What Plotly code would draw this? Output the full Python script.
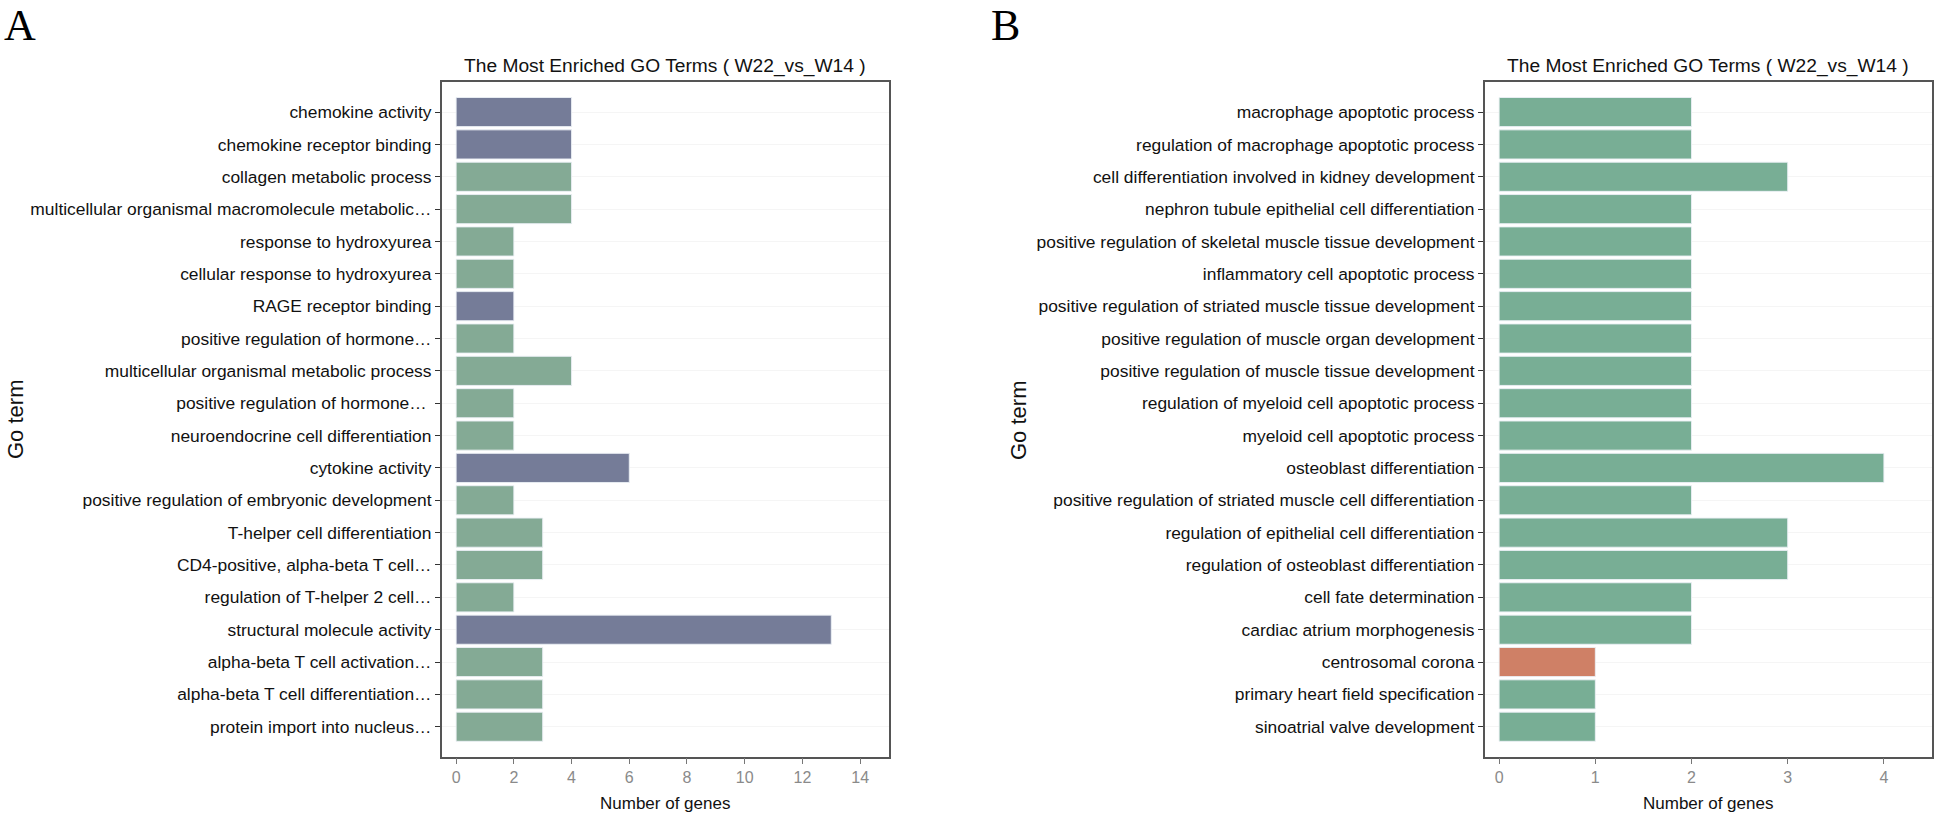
import plotly.graph_objects as go

W, H = 1946, 815

terms_a = [
    "chemokine activity", "chemokine receptor binding", "collagen metabolic process",
    "multicellular organismal macromolecule metabolic…", "response to hydroxyurea",
    "cellular response to hydroxyurea", "RAGE receptor binding", "positive regulation of hormone…",
    "multicellular organismal metabolic process", "positive regulation of hormone… ",
    "neuroendocrine cell differentiation", "cytokine activity",
    "positive regulation of embryonic development", "T-helper cell differentiation",
    "CD4-positive, alpha-beta T cell…", "regulation of T-helper 2 cell…",
    "structural molecule activity", "alpha-beta T cell activation…",
    "alpha-beta T cell differentiation…", "protein import into nucleus…",
]
genes_a = [4, 4, 4, 4, 2, 2, 2, 2, 4, 2, 2, 6, 2, 3, 3, 2, 13, 3, 3, 3]
type_a = ["MF", "MF", "BP", "BP", "BP", "BP", "MF", "BP", "BP", "BP",
          "BP", "MF", "BP", "BP", "BP", "BP", "MF", "BP", "BP", "BP"]

terms_b = [
    "macrophage apoptotic process", "regulation of macrophage apoptotic process",
    "cell differentiation involved in kidney development",
    "nephron tubule epithelial cell differentiation",
    "positive regulation of skeletal muscle tissue development",
    "inflammatory cell apoptotic process",
    "positive regulation of striated muscle tissue development",
    "positive regulation of muscle organ development",
    "positive regulation of muscle tissue development",
    "regulation of myeloid cell apoptotic process", "myeloid cell apoptotic process",
    "osteoblast differentiation",
    "positive regulation of striated muscle cell differentiation",
    "regulation of epithelial cell differentiation",
    "regulation of osteoblast differentiation", "cell fate determination",
    "cardiac atrium morphogenesis", "centrosomal corona",
    "primary heart field specification", "sinoatrial valve development",
]
genes_b = [2, 2, 3, 2, 2, 2, 2, 2, 2, 2, 2, 4, 2, 3, 3, 2, 2, 1, 1, 1]
type_b = ["BP"] * 17 + ["CC", "BP", "BP"]

colors_a = {"MF": "#757c98", "BP": "#84aa95"}
colors_b = {"BP": "#78ae95", "CC": "#cf8066"}

title_text = "The Most Enriched GO Terms ( W22_vs_W14 )"
xtitle = "Number of genes"
ytitle = "Go term"

FONT = "Liberation Sans, Arial, sans-serif"

# pixel geometry
ax_left, ax_right = 441.7, 889.0
bx_left, bx_right = 1484.7, 1932.0
y_top, y_bot = 82.3, 756.5

def px(x):
    return x / W

def py(y):
    return 1 - y / H

fig = go.Figure()
fig.add_trace(go.Bar(
    x=genes_a, y=terms_a, orientation="h", width=0.9,
    marker=dict(color=[colors_a[t] for t in type_a],
                line=dict(color="rgba(235,240,245,0.9)", width=1)),
    xaxis="x", yaxis="y", showlegend=False,
))
fig.add_trace(go.Bar(
    x=genes_b, y=terms_b, orientation="h", width=0.9,
    marker=dict(color=[colors_b[t] for t in type_b],
                line=dict(color="rgba(235,240,245,0.9)", width=1)),
    xaxis="x2", yaxis="y2", showlegend=False,
))

xcommon = dict(
    showline=True, linecolor="#555555", linewidth=1.5, mirror=True,
    ticks="outside", ticklen=6, tickcolor="#777777", tickwidth=1.2,
    tickfont=dict(family=FONT, size=16, color="#8a8a8a"),
    showgrid=False, zeroline=False,
)
ycommon = dict(
    showline=True, linecolor="#555555", linewidth=1.5, mirror=True,
    ticks="outside", ticklen=5, tickcolor="#333333", tickwidth=1.2,
    tickfont=dict(family=FONT, size=17.4, color="#111111"),
    showgrid=True, gridcolor="#f5f5f5", gridwidth=1,
    zeroline=False, type="category",
    range=[len(terms_a) - 1 + 0.92, -0.92],
)

fig.update_layout(
    width=W, height=H,
    margin=dict(l=0, r=0, t=0, b=0),
    paper_bgcolor="white", plot_bgcolor="white",
    bargap=0.1,
    xaxis=dict(domain=[px(ax_left), px(ax_right)], range=[-0.5, 15],
               tickvals=[0, 2, 4, 6, 8, 10, 12, 14], anchor="y", **xcommon),
    yaxis=dict(domain=[py(y_bot), py(y_top)], anchor="x",
               categoryorder="array", categoryarray=terms_a, **ycommon),
    xaxis2=dict(domain=[px(bx_left), px(bx_right)], range=[-0.15, 4.5],
                tickvals=[0, 1, 2, 3, 4], anchor="y2", **xcommon),
    yaxis2=dict(domain=[py(y_bot), py(y_top)], anchor="x2",
                categoryorder="array", categoryarray=terms_b, **ycommon),
)

ann = []
for label, lx, l, r in [("A", 2, ax_left, ax_right), ("B", 989, bx_left, bx_right)]:
    ann.append(dict(text=label, x=px(lx), y=py(25), xref="paper", yref="paper",
                    xanchor="left", yanchor="middle", showarrow=False,
                    font=dict(family="Liberation Serif, Times New Roman, serif", size=44, color="black")))
    ann.append(dict(text=title_text, x=px((l + r) / 2), y=py(66), xref="paper", yref="paper",
                    xanchor="center", yanchor="middle", showarrow=False,
                    font=dict(family=FONT, size=19.2, color="#111111")))
    ann.append(dict(text=xtitle, x=px((l + r) / 2), y=py(803), xref="paper", yref="paper",
                    xanchor="center", yanchor="middle", showarrow=False,
                    font=dict(family=FONT, size=17, color="#111111")))
ann.append(dict(text=ytitle, x=px(15), y=py(420), xref="paper", yref="paper",
                xanchor="center", yanchor="middle", showarrow=False, textangle=-90,
                font=dict(family=FONT, size=22, color="#111111")))
ann.append(dict(text=ytitle, x=px(1018), y=py(420), xref="paper", yref="paper",
                xanchor="center", yanchor="middle", showarrow=False, textangle=-90,
                font=dict(family=FONT, size=22, color="#111111")))
fig.update_layout(annotations=ann)

fig.write_html("out.html", config={"displayModeBar": False},
               post_script="document.body.style.margin='0px';")
